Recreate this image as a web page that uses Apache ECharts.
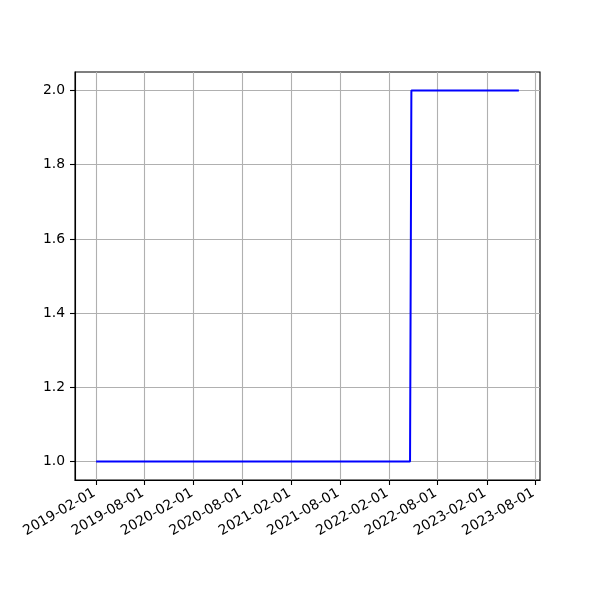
<!DOCTYPE html>
<html>
<head>
<meta charset="utf-8">
<script src="https://cdn.jsdelivr.net/npm/echarts@6/dist/echarts.min.js"></script>
<style>html,body{margin:0;padding:0;background:#fff}#c{width:600px;height:600px}</style>
</head>
<body>
<div id="c"></div>
<script>
var dates = ['2019-02-01', '2022-04-20', '2022-04-25', '2023-06-01'];
var values = [1, 1, 2, 2];
var xTickLabels = ['2019-02-01','2019-08-01','2020-02-01','2020-08-01','2021-02-01','2021-08-01','2022-02-01','2022-08-01','2023-02-01','2023-08-01'];
var yTicks = [1.0, 1.2, 1.4, 1.6, 1.8, 2.0];

function ts(s) { var p = s.split('-'); return Date.UTC(+p[0], +p[1] - 1, +p[2]); }
function fmt(v) {
  var d = new Date(v);
  var m = d.getUTCMonth() + 1, dd = d.getUTCDate();
  return d.getUTCFullYear() + '-' + (m < 10 ? '0' : '') + m + '-' + (dd < 10 ? '0' : '') + dd;
}

var chart = echarts.init(document.getElementById('c'), null, {renderer: 'canvas'});
var font = 'DejaVu Sans';
var fs = 13.9;
var data = dates.map(function (d, i) { return [ts(d), values[i]]; });
var xTickVals = xTickLabels.map(ts);
var dMin = ts(dates[0]), dMax = ts(dates[dates.length - 1]);
var pad = 0.05 * (dMax - dMin);

chart.setOption({
  animation: false,
  backgroundColor: '#fff',
  grid: {left: 75, right: 60, top: 72, bottom: 120, show: true, borderColor: '#000', borderWidth: 1.1, backgroundColor: 'transparent'},
  xAxis: {
    type: 'value',
    min: dMin - pad,
    max: dMax + pad,
    axisLine: {show: true, onZero: false, lineStyle: {color: '#000', width: 1.1}},
    axisTick: {show: true, customValues: xTickVals, length: 5, lineStyle: {color: '#000', width: 1.1}},
    axisLabel: {
      customValues: xTickVals,
      rotate: 30, margin: 11, padding: [0, 2, 0, 0], color: '#000', fontFamily: font, fontSize: fs,
      formatter: function (v) { return fmt(v); }
    },
    splitLine: {show: true, lineStyle: {color: '#b0b0b0', width: 1.1}}
  },
  yAxis: {
    type: 'value', min: 0.95, max: 2.05,
    axisLine: {show: true, onZero: false, lineStyle: {color: '#000', width: 1.1}},
    axisTick: {show: true, customValues: yTicks, length: 5, lineStyle: {color: '#000', width: 1.1}},
    axisLabel: {
      customValues: yTicks, margin: 10, color: '#000', fontFamily: font, fontSize: fs,
      formatter: function (v) { return Number(v).toFixed(1); }
    },
    splitLine: {show: true, lineStyle: {color: '#b0b0b0', width: 1.1}}
  },
  series: [{
    type: 'line', data: data, showSymbol: false, symbol: 'none',
    lineStyle: {color: '#0000ff', width: 2}, itemStyle: {color: '#0000ff'}
  }]
});
</script>
</body>
</html>
